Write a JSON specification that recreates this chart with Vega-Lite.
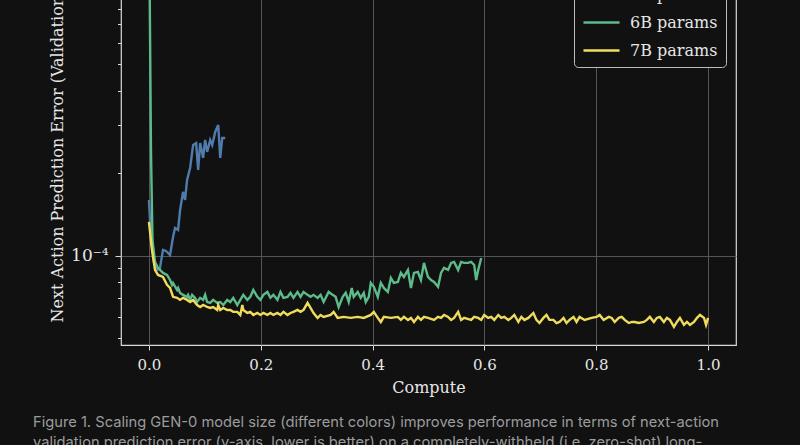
{
  "$schema": "https://vega.github.io/schema/vega-lite/v6.json",
  "width": 615,
  "height": 415,
  "autosize": {"type": "none"},
  "padding": {"left": 121, "top": -70, "right": 64, "bottom": 100},
  "background": "#111111",
  "config": {
    "font": "DejaVu Serif",
    "view": {"stroke": "#d9d9d9", "strokeWidth": 1.2, "fill": "#111111"}
  },
  "title": {
    "text": [
      "Figure 1. Scaling GEN-0 model size (different colors) improves performance in terms of next-action",
      "validation prediction error (y-axis, lower is better) on a completely-withheld (i.e. zero-shot) long-"
    ],
    "orient": "bottom",
    "anchor": "start",
    "frame": "group",
    "dx": -88,
    "offset": 20,
    "font": "Inter",
    "fontSize": 14.7,
    "fontWeight": "normal",
    "color": "#9c9c9c",
    "lineHeight": 20
  },
  "data": {
    "values": [
      {"model": "1B params", "compute": 0.0, "error": 1.601e-4},
      {"model": "1B params", "compute": 0.0036, "error": 1.144e-4},
      {"model": "1B params", "compute": 0.009, "error": 0.951e-4},
      {"model": "1B params", "compute": 0.0144, "error": 0.889e-4},
      {"model": "1B params", "compute": 0.0197, "error": 0.904e-4},
      {"model": "1B params", "compute": 0.0251, "error": 1.052e-4},
      {"model": "1B params", "compute": 0.0305, "error": 1.043e-4},
      {"model": "1B params", "compute": 0.0377, "error": 1.008e-4},
      {"model": "1B params", "compute": 0.0431, "error": 1.173e-4},
      {"model": "1B params", "compute": 0.0467, "error": 1.265e-4},
      {"model": "1B params", "compute": 0.0521, "error": 1.244e-4},
      {"model": "1B params", "compute": 0.0557, "error": 1.472e-4},
      {"model": "1B params", "compute": 0.061, "error": 1.713e-4},
      {"model": "1B params", "compute": 0.0646, "error": 1.601e-4},
      {"model": "1B params", "compute": 0.0682, "error": 1.894e-4},
      {"model": "1B params", "compute": 0.0736, "error": 2.095e-4},
      {"model": "1B params", "compute": 0.079, "error": 2.542e-4},
      {"model": "1B params", "compute": 0.0844, "error": 2.584e-4},
      {"model": "1B params", "compute": 0.088, "error": 2.06e-4},
      {"model": "1B params", "compute": 0.0916, "error": 2.584e-4},
      {"model": "1B params", "compute": 0.0969, "error": 2.28e-4},
      {"model": "1B params", "compute": 0.1005, "error": 2.65e-4},
      {"model": "1B params", "compute": 0.1041, "error": 2.397e-4},
      {"model": "1B params", "compute": 0.1095, "error": 2.65e-4},
      {"model": "1B params", "compute": 0.1131, "error": 2.542e-4},
      {"model": "1B params", "compute": 0.1185, "error": 2.836e-4},
      {"model": "1B params", "compute": 0.1239, "error": 3.006e-4},
      {"model": "1B params", "compute": 0.1275, "error": 2.28e-4},
      {"model": "1B params", "compute": 0.1311, "error": 2.696e-4},
      {"model": "1B params", "compute": 0.1364, "error": 2.696e-4},

      {"model": "6B params", "compute": 0.0, "error": 2.0e-3},
      {"model": "6B params", "compute": 0.0036, "error": 2.437e-4},
      {"model": "6B params", "compute": 0.0063, "error": 1.144e-4},
      {"model": "6B params", "compute": 0.0108, "error": 0.951e-4},
      {"model": "6B params", "compute": 0.0162, "error": 0.904e-4},
      {"model": "6B params", "compute": 0.0197, "error": 0.889e-4},
      {"model": "6B params", "compute": 0.0251, "error": 0.867e-4},
      {"model": "6B params", "compute": 0.0323, "error": 0.852e-4},
      {"model": "6B params", "compute": 0.0377, "error": 0.817e-4},
      {"model": "6B params", "compute": 0.0413, "error": 0.784e-4},
      {"model": "6B params", "compute": 0.0431, "error": 0.797e-4},
      {"model": "6B params", "compute": 0.0503, "error": 0.751e-4},
      {"model": "6B params", "compute": 0.0521, "error": 0.764e-4},
      {"model": "6B params", "compute": 0.0557, "error": 0.733e-4},
      {"model": "6B params", "compute": 0.061, "error": 0.721e-4},
      {"model": "6B params", "compute": 0.0682, "error": 0.709e-4},
      {"model": "6B params", "compute": 0.07, "error": 0.721e-4},
      {"model": "6B params", "compute": 0.0736, "error": 0.691e-4},
      {"model": "6B params", "compute": 0.0772, "error": 0.721e-4},
      {"model": "6B params", "compute": 0.0826, "error": 0.703e-4},
      {"model": "6B params", "compute": 0.0862, "error": 0.679e-4},
      {"model": "6B params", "compute": 0.0916, "error": 0.703e-4},
      {"model": "6B params", "compute": 0.0969, "error": 0.691e-4},
      {"model": "6B params", "compute": 0.1005, "error": 0.721e-4},
      {"model": "6B params", "compute": 0.1041, "error": 0.679e-4},
      {"model": "6B params", "compute": 0.1095, "error": 0.674e-4},
      {"model": "6B params", "compute": 0.1149, "error": 0.691e-4},
      {"model": "6B params", "compute": 0.1221, "error": 0.674e-4},
      {"model": "6B params", "compute": 0.1275, "error": 0.679e-4},
      {"model": "6B params", "compute": 0.1329, "error": 0.662e-4},
      {"model": "6B params", "compute": 0.14, "error": 0.691e-4},
      {"model": "6B params", "compute": 0.1454, "error": 0.679e-4},
      {"model": "6B params", "compute": 0.1508, "error": 0.703e-4},
      {"model": "6B params", "compute": 0.158, "error": 0.662e-4},
      {"model": "6B params", "compute": 0.1634, "error": 0.691e-4},
      {"model": "6B params", "compute": 0.1688, "error": 0.721e-4},
      {"model": "6B params", "compute": 0.1759, "error": 0.691e-4},
      {"model": "6B params", "compute": 0.1813, "error": 0.709e-4},
      {"model": "6B params", "compute": 0.1867, "error": 0.751e-4},
      {"model": "6B params", "compute": 0.1939, "error": 0.709e-4},
      {"model": "6B params", "compute": 0.1993, "error": 0.691e-4},
      {"model": "6B params", "compute": 0.2047, "error": 0.721e-4},
      {"model": "6B params", "compute": 0.2118, "error": 0.739e-4},
      {"model": "6B params", "compute": 0.2172, "error": 0.703e-4},
      {"model": "6B params", "compute": 0.2226, "error": 0.721e-4},
      {"model": "6B params", "compute": 0.2298, "error": 0.691e-4},
      {"model": "6B params", "compute": 0.2352, "error": 0.739e-4},
      {"model": "6B params", "compute": 0.2406, "error": 0.703e-4},
      {"model": "6B params", "compute": 0.2478, "error": 0.709e-4},
      {"model": "6B params", "compute": 0.2531, "error": 0.733e-4},
      {"model": "6B params", "compute": 0.2585, "error": 0.703e-4},
      {"model": "6B params", "compute": 0.2657, "error": 0.739e-4},
      {"model": "6B params", "compute": 0.2711, "error": 0.709e-4},
      {"model": "6B params", "compute": 0.2765, "error": 0.739e-4},
      {"model": "6B params", "compute": 0.2837, "error": 0.721e-4},
      {"model": "6B params", "compute": 0.289, "error": 0.709e-4},
      {"model": "6B params", "compute": 0.2944, "error": 0.721e-4},
      {"model": "6B params", "compute": 0.3016, "error": 0.703e-4},
      {"model": "6B params", "compute": 0.307, "error": 0.721e-4},
      {"model": "6B params", "compute": 0.3124, "error": 0.679e-4},
      {"model": "6B params", "compute": 0.3214, "error": 0.739e-4},
      {"model": "6B params", "compute": 0.3285, "error": 0.721e-4},
      {"model": "6B params", "compute": 0.3339, "error": 0.709e-4},
      {"model": "6B params", "compute": 0.3393, "error": 0.651e-4},
      {"model": "6B params", "compute": 0.3465, "error": 0.709e-4},
      {"model": "6B params", "compute": 0.3519, "error": 0.733e-4},
      {"model": "6B params", "compute": 0.3573, "error": 0.679e-4},
      {"model": "6B params", "compute": 0.3627, "error": 0.764e-4},
      {"model": "6B params", "compute": 0.3662, "error": 0.709e-4},
      {"model": "6B params", "compute": 0.3734, "error": 0.739e-4},
      {"model": "6B params", "compute": 0.3788, "error": 0.703e-4},
      {"model": "6B params", "compute": 0.3842, "error": 0.733e-4},
      {"model": "6B params", "compute": 0.3878, "error": 0.679e-4},
      {"model": "6B params", "compute": 0.3932, "error": 0.709e-4},
      {"model": "6B params", "compute": 0.3968, "error": 0.797e-4},
      {"model": "6B params", "compute": 0.4022, "error": 0.771e-4},
      {"model": "6B params", "compute": 0.4093, "error": 0.709e-4},
      {"model": "6B params", "compute": 0.4147, "error": 0.797e-4},
      {"model": "6B params", "compute": 0.4201, "error": 0.764e-4},
      {"model": "6B params", "compute": 0.4273, "error": 0.739e-4},
      {"model": "6B params", "compute": 0.4327, "error": 0.831e-4},
      {"model": "6B params", "compute": 0.438, "error": 0.797e-4},
      {"model": "6B params", "compute": 0.4452, "error": 0.804e-4},
      {"model": "6B params", "compute": 0.4506, "error": 0.867e-4},
      {"model": "6B params", "compute": 0.456, "error": 0.838e-4},
      {"model": "6B params", "compute": 0.4632, "error": 0.889e-4},
      {"model": "6B params", "compute": 0.4686, "error": 0.764e-4},
      {"model": "6B params", "compute": 0.474, "error": 0.867e-4},
      {"model": "6B params", "compute": 0.4811, "error": 0.874e-4},
      {"model": "6B params", "compute": 0.4865, "error": 0.817e-4},
      {"model": "6B params", "compute": 0.4919, "error": 0.943e-4},
      {"model": "6B params", "compute": 0.4991, "error": 0.838e-4},
      {"model": "6B params", "compute": 0.5045, "error": 0.817e-4},
      {"model": "6B params", "compute": 0.5099, "error": 0.804e-4},
      {"model": "6B params", "compute": 0.5171, "error": 0.771e-4},
      {"model": "6B params", "compute": 0.5224, "error": 0.867e-4},
      {"model": "6B params", "compute": 0.5278, "error": 0.904e-4},
      {"model": "6B params", "compute": 0.535, "error": 0.889e-4},
      {"model": "6B params", "compute": 0.5404, "error": 0.943e-4},
      {"model": "6B params", "compute": 0.5458, "error": 0.951e-4},
      {"model": "6B params", "compute": 0.553, "error": 0.889e-4},
      {"model": "6B params", "compute": 0.5583, "error": 0.951e-4},
      {"model": "6B params", "compute": 0.5637, "error": 0.943e-4},
      {"model": "6B params", "compute": 0.5709, "error": 0.943e-4},
      {"model": "6B params", "compute": 0.5763, "error": 0.951e-4},
      {"model": "6B params", "compute": 0.5817, "error": 0.927e-4},
      {"model": "6B params", "compute": 0.5853, "error": 0.817e-4},
      {"model": "6B params", "compute": 0.5889, "error": 0.889e-4},
      {"model": "6B params", "compute": 0.5943, "error": 0.983e-4},

      {"model": "7B params", "compute": 0.0, "error": 1.331e-4},
      {"model": "7B params", "compute": 0.0054, "error": 1.052e-4},
      {"model": "7B params", "compute": 0.0108, "error": 0.889e-4},
      {"model": "7B params", "compute": 0.0162, "error": 0.852e-4},
      {"model": "7B params", "compute": 0.0251, "error": 0.838e-4},
      {"model": "7B params", "compute": 0.0323, "error": 0.784e-4},
      {"model": "7B params", "compute": 0.0377, "error": 0.764e-4},
      {"model": "7B params", "compute": 0.0431, "error": 0.709e-4},
      {"model": "7B params", "compute": 0.0503, "error": 0.703e-4},
      {"model": "7B params", "compute": 0.0557, "error": 0.691e-4},
      {"model": "7B params", "compute": 0.061, "error": 0.703e-4},
      {"model": "7B params", "compute": 0.0682, "error": 0.691e-4},
      {"model": "7B params", "compute": 0.0736, "error": 0.679e-4},
      {"model": "7B params", "compute": 0.079, "error": 0.691e-4},
      {"model": "7B params", "compute": 0.0862, "error": 0.662e-4},
      {"model": "7B params", "compute": 0.0916, "error": 0.651e-4},
      {"model": "7B params", "compute": 0.0969, "error": 0.662e-4},
      {"model": "7B params", "compute": 0.1041, "error": 0.651e-4},
      {"model": "7B params", "compute": 0.1095, "error": 0.646e-4},
      {"model": "7B params", "compute": 0.1149, "error": 0.651e-4},
      {"model": "7B params", "compute": 0.1221, "error": 0.635e-4},
      {"model": "7B params", "compute": 0.1239, "error": 0.662e-4},
      {"model": "7B params", "compute": 0.1275, "error": 0.635e-4},
      {"model": "7B params", "compute": 0.1329, "error": 0.646e-4},
      {"model": "7B params", "compute": 0.14, "error": 0.635e-4},
      {"model": "7B params", "compute": 0.1454, "error": 0.635e-4},
      {"model": "7B params", "compute": 0.1508, "error": 0.625e-4},
      {"model": "7B params", "compute": 0.158, "error": 0.625e-4},
      {"model": "7B params", "compute": 0.1634, "error": 0.609e-4},
      {"model": "7B params", "compute": 0.167, "error": 0.662e-4},
      {"model": "7B params", "compute": 0.1688, "error": 0.635e-4},
      {"model": "7B params", "compute": 0.1759, "error": 0.619e-4},
      {"model": "7B params", "compute": 0.1813, "error": 0.625e-4},
      {"model": "7B params", "compute": 0.1867, "error": 0.609e-4},
      {"model": "7B params", "compute": 0.1939, "error": 0.619e-4},
      {"model": "7B params", "compute": 0.1993, "error": 0.609e-4},
      {"model": "7B params", "compute": 0.2047, "error": 0.619e-4},
      {"model": "7B params", "compute": 0.2118, "error": 0.609e-4},
      {"model": "7B params", "compute": 0.2172, "error": 0.619e-4},
      {"model": "7B params", "compute": 0.2226, "error": 0.609e-4},
      {"model": "7B params", "compute": 0.2298, "error": 0.619e-4},
      {"model": "7B params", "compute": 0.2352, "error": 0.609e-4},
      {"model": "7B params", "compute": 0.2406, "error": 0.625e-4},
      {"model": "7B params", "compute": 0.2478, "error": 0.609e-4},
      {"model": "7B params", "compute": 0.2531, "error": 0.619e-4},
      {"model": "7B params", "compute": 0.2585, "error": 0.625e-4},
      {"model": "7B params", "compute": 0.2657, "error": 0.635e-4},
      {"model": "7B params", "compute": 0.2711, "error": 0.625e-4},
      {"model": "7B params", "compute": 0.2765, "error": 0.635e-4},
      {"model": "7B params", "compute": 0.2837, "error": 0.674e-4},
      {"model": "7B params", "compute": 0.289, "error": 0.646e-4},
      {"model": "7B params", "compute": 0.2944, "error": 0.619e-4},
      {"model": "7B params", "compute": 0.3016, "error": 0.594e-4},
      {"model": "7B params", "compute": 0.307, "error": 0.609e-4},
      {"model": "7B params", "compute": 0.3124, "error": 0.599e-4},
      {"model": "7B params", "compute": 0.325, "error": 0.609e-4},
      {"model": "7B params", "compute": 0.3303, "error": 0.625e-4},
      {"model": "7B params", "compute": 0.3375, "error": 0.594e-4},
      {"model": "7B params", "compute": 0.3483, "error": 0.599e-4},
      {"model": "7B params", "compute": 0.3609, "error": 0.594e-4},
      {"model": "7B params", "compute": 0.3734, "error": 0.599e-4},
      {"model": "7B params", "compute": 0.3842, "error": 0.594e-4},
      {"model": "7B params", "compute": 0.3968, "error": 0.609e-4},
      {"model": "7B params", "compute": 0.4022, "error": 0.625e-4},
      {"model": "7B params", "compute": 0.4093, "error": 0.594e-4},
      {"model": "7B params", "compute": 0.4147, "error": 0.574e-4},
      {"model": "7B params", "compute": 0.4201, "error": 0.599e-4},
      {"model": "7B params", "compute": 0.4327, "error": 0.594e-4},
      {"model": "7B params", "compute": 0.4452, "error": 0.599e-4},
      {"model": "7B params", "compute": 0.4506, "error": 0.584e-4},
      {"model": "7B params", "compute": 0.456, "error": 0.599e-4},
      {"model": "7B params", "compute": 0.4632, "error": 0.584e-4},
      {"model": "7B params", "compute": 0.4686, "error": 0.594e-4},
      {"model": "7B params", "compute": 0.474, "error": 0.574e-4},
      {"model": "7B params", "compute": 0.4811, "error": 0.599e-4},
      {"model": "7B params", "compute": 0.4865, "error": 0.584e-4},
      {"model": "7B params", "compute": 0.4919, "error": 0.599e-4},
      {"model": "7B params", "compute": 0.4991, "error": 0.594e-4},
      {"model": "7B params", "compute": 0.5099, "error": 0.584e-4},
      {"model": "7B params", "compute": 0.5171, "error": 0.599e-4},
      {"model": "7B params", "compute": 0.5224, "error": 0.594e-4},
      {"model": "7B params", "compute": 0.5278, "error": 0.609e-4},
      {"model": "7B params", "compute": 0.535, "error": 0.599e-4},
      {"model": "7B params", "compute": 0.5404, "error": 0.584e-4},
      {"model": "7B params", "compute": 0.5458, "error": 0.594e-4},
      {"model": "7B params", "compute": 0.553, "error": 0.625e-4},
      {"model": "7B params", "compute": 0.5583, "error": 0.584e-4},
      {"model": "7B params", "compute": 0.5637, "error": 0.594e-4},
      {"model": "7B params", "compute": 0.5763, "error": 0.584e-4},
      {"model": "7B params", "compute": 0.5817, "error": 0.599e-4},
      {"model": "7B params", "compute": 0.5889, "error": 0.594e-4},
      {"model": "7B params", "compute": 0.5943, "error": 0.584e-4},
      {"model": "7B params", "compute": 0.5996, "error": 0.609e-4},
      {"model": "7B params", "compute": 0.6068, "error": 0.594e-4},
      {"model": "7B params", "compute": 0.6122, "error": 0.599e-4},
      {"model": "7B params", "compute": 0.6176, "error": 0.584e-4},
      {"model": "7B params", "compute": 0.6248, "error": 0.609e-4},
      {"model": "7B params", "compute": 0.6302, "error": 0.594e-4},
      {"model": "7B params", "compute": 0.6355, "error": 0.599e-4},
      {"model": "7B params", "compute": 0.6427, "error": 0.584e-4},
      {"model": "7B params", "compute": 0.6481, "error": 0.594e-4},
      {"model": "7B params", "compute": 0.6535, "error": 0.609e-4},
      {"model": "7B params", "compute": 0.6607, "error": 0.574e-4},
      {"model": "7B params", "compute": 0.6661, "error": 0.599e-4},
      {"model": "7B params", "compute": 0.6715, "error": 0.584e-4},
      {"model": "7B params", "compute": 0.6786, "error": 0.594e-4},
      {"model": "7B params", "compute": 0.6876, "error": 0.619e-4},
      {"model": "7B params", "compute": 0.693, "error": 0.584e-4},
      {"model": "7B params", "compute": 0.6984, "error": 0.569e-4},
      {"model": "7B params", "compute": 0.7056, "error": 0.594e-4},
      {"model": "7B params", "compute": 0.711, "error": 0.609e-4},
      {"model": "7B params", "compute": 0.7163, "error": 0.584e-4},
      {"model": "7B params", "compute": 0.7235, "error": 0.584e-4},
      {"model": "7B params", "compute": 0.7289, "error": 0.569e-4},
      {"model": "7B params", "compute": 0.7343, "error": 0.574e-4},
      {"model": "7B params", "compute": 0.7415, "error": 0.594e-4},
      {"model": "7B params", "compute": 0.7469, "error": 0.569e-4},
      {"model": "7B params", "compute": 0.7522, "error": 0.584e-4},
      {"model": "7B params", "compute": 0.7594, "error": 0.599e-4},
      {"model": "7B params", "compute": 0.7648, "error": 0.574e-4},
      {"model": "7B params", "compute": 0.7702, "error": 0.599e-4},
      {"model": "7B params", "compute": 0.7792, "error": 0.584e-4},
      {"model": "7B params", "compute": 0.7917, "error": 0.594e-4},
      {"model": "7B params", "compute": 0.8007, "error": 0.599e-4},
      {"model": "7B params", "compute": 0.8061, "error": 0.609e-4},
      {"model": "7B params", "compute": 0.8133, "error": 0.584e-4},
      {"model": "7B params", "compute": 0.8223, "error": 0.599e-4},
      {"model": "7B params", "compute": 0.8276, "error": 0.594e-4},
      {"model": "7B params", "compute": 0.833, "error": 0.574e-4},
      {"model": "7B params", "compute": 0.8402, "error": 0.594e-4},
      {"model": "7B params", "compute": 0.8456, "error": 0.599e-4},
      {"model": "7B params", "compute": 0.851, "error": 0.584e-4},
      {"model": "7B params", "compute": 0.8582, "error": 0.569e-4},
      {"model": "7B params", "compute": 0.8636, "error": 0.574e-4},
      {"model": "7B params", "compute": 0.8689, "error": 0.574e-4},
      {"model": "7B params", "compute": 0.8761, "error": 0.569e-4},
      {"model": "7B params", "compute": 0.8851, "error": 0.574e-4},
      {"model": "7B params", "compute": 0.8905, "error": 0.584e-4},
      {"model": "7B params", "compute": 0.8959, "error": 0.599e-4},
      {"model": "7B params", "compute": 0.9031, "error": 0.574e-4},
      {"model": "7B params", "compute": 0.9084, "error": 0.594e-4},
      {"model": "7B params", "compute": 0.9138, "error": 0.599e-4},
      {"model": "7B params", "compute": 0.921, "error": 0.574e-4},
      {"model": "7B params", "compute": 0.9264, "error": 0.594e-4},
      {"model": "7B params", "compute": 0.9318, "error": 0.584e-4},
      {"model": "7B params", "compute": 0.939, "error": 0.551e-4},
      {"model": "7B params", "compute": 0.9443, "error": 0.574e-4},
      {"model": "7B params", "compute": 0.9497, "error": 0.594e-4},
      {"model": "7B params", "compute": 0.9569, "error": 0.56e-4},
      {"model": "7B params", "compute": 0.9623, "error": 0.574e-4},
      {"model": "7B params", "compute": 0.9677, "error": 0.56e-4},
      {"model": "7B params", "compute": 0.9749, "error": 0.574e-4},
      {"model": "7B params", "compute": 0.9803, "error": 0.594e-4},
      {"model": "7B params", "compute": 0.9856, "error": 0.609e-4},
      {"model": "7B params", "compute": 0.9928, "error": 0.594e-4},
      {"model": "7B params", "compute": 0.9964, "error": 0.56e-4},
      {"model": "7B params", "compute": 1.0, "error": 0.594e-4}
    ]
  },
  "mark": {"type": "line", "strokeWidth": 2.4, "clip": true},
  "encoding": {
    "x": {
      "field": "compute",
      "type": "quantitative",
      "scale": {"domain": [-0.05, 1.05], "nice": false, "zero": false},
      "axis": {
        "title": "Compute",
        "values": [0, 0.2, 0.4, 0.6, 0.8, 1.0],
        "format": ".1f",
        "domain": false,
        "grid": true,
        "gridColor": "#555555",
        "gridWidth": 1,
        "tickColor": "#d9d9d9",
        "tickSize": 5,
        "tickWidth": 1,
        "labelColor": "#e6e6e6",
        "labelFontSize": 15,
        "labelPadding": 7,
        "titleColor": "#e6e6e6",
        "titleFontSize": 16,
        "titleFontWeight": "normal",
        "titlePadding": 7
      }
    },
    "y": {
      "field": "error",
      "type": "quantitative",
      "scale": {"type": "log", "domain": [4.73e-5, 1.548e-3], "nice": false},
      "axis": {
        "title": "Next Action Prediction Error (Validation Loss)",
        "values": [5e-5, 6e-5, 7e-5, 8e-5, 9e-5, 1e-4, 2e-4, 3e-4, 4e-4, 5e-4, 6e-4, 7e-4, 8e-4, 9e-4, 1e-3],
        "labelExpr": "abs(log(datum.value) / LN10 + 4) < 0.01 ? '10⁻⁴' : abs(log(datum.value) / LN10 + 3) < 0.01 ? '10⁻³' : ''",
        "domain": false,
        "grid": true,
        "gridColor": "#555555",
        "gridOpacity": {"condition": {"test": "abs(log(datum.value) / LN10 - round(log(datum.value) / LN10)) < 0.01", "value": 1}, "value": 0},
        "tickColor": "#d9d9d9",
        "tickSize": {"condition": {"test": "abs(log(datum.value) / LN10 - round(log(datum.value) / LN10)) < 0.01", "value": 6}, "value": 3.5},
        "tickWidth": 1,
        "labelColor": "#e6e6e6",
        "labelFontSize": 17,
        "labelPadding": 7,
        "titleColor": "#e6e6e6",
        "titleFontSize": 16,
        "titleFontWeight": "normal",
        "titleAngle": -90,
        "titleAlign": "left",
        "titleBaseline": "alphabetic",
        "titleX": -59,
        "titleY": 392
      }
    },
    "color": {
      "field": "model",
      "type": "nominal",
      "scale": {
        "domain": ["1B params", "6B params", "7B params"],
        "range": ["#4f7cad", "#5cba8b", "#f0dc5c"]
      },
      "legend": {
        "title": null,
        "orient": "none",
        "legendX": 453,
        "legendY": 37,
        "direction": "vertical",
        "symbolType": "stroke",
        "symbolStrokeWidth": 2.4,
        "symbolSize": 1300,
        "labelFontSize": 16,
        "labelColor": "#e6e6e6",
        "labelOffset": 9,
        "rowPadding": -13,
        "strokeColor": "#bdbdbd",
        "fillColor": "#111111",
        "cornerRadius": 4,
        "padding": 8
      }
    }
  }
}
